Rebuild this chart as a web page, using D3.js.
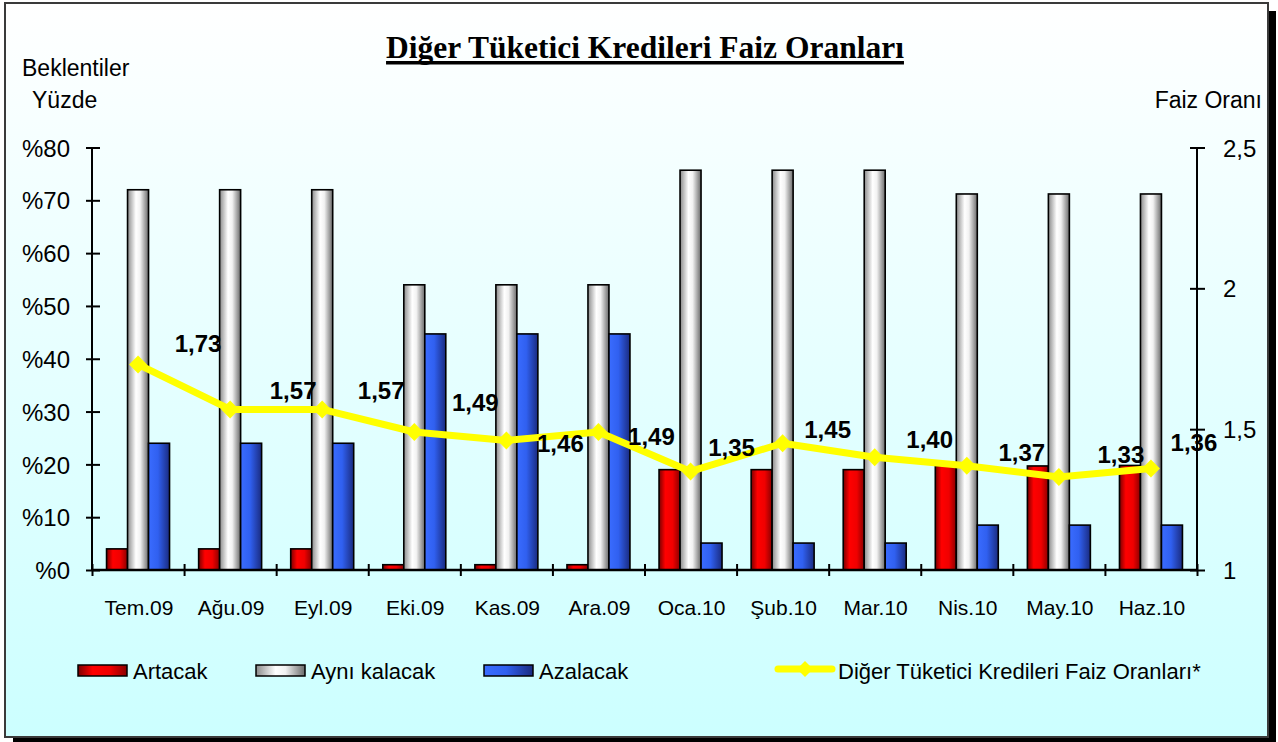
<!DOCTYPE html>
<html>
<head>
<meta charset="utf-8">
<script src="https://cdn.jsdelivr.net/npm/d3@7"></script>
<style>
  html, body { margin: 0; padding: 0; background: #ffffff; }
  svg { display: block; }
  text { font-family: "Liberation Sans", Arial, sans-serif; fill: #000; }
</style>
</head>
<body>
<svg id="chart" width="1278" height="742"></svg>
<script>
// Months of the survey
const categories = ["Tem.09", "Ağu.09", "Eyl.09", "Eki.09", "Kas.09", "Ara.09",
                    "Oca.10", "Şub.10", "Mar.10", "Nis.10", "May.10", "Haz.10"];

// Share of answers (%) for each expectation
const artacak     = [4, 4, 4, 1, 1, 1, 19, 19, 19, 19.8, 19.7, 19.8];
const ayniKalacak = [72, 72, 72, 54, 54, 54, 75.7, 75.7, 75.7, 71.2, 71.2, 71.2];
const azalacak    = [24, 24, 24, 44.7, 44.7, 44.7, 5.1, 5.1, 5.1, 8.5, 8.5, 8.5];

// Interest rate (right axis)
const faizOrani = [1.73, 1.57, 1.57, 1.49, 1.46, 1.49, 1.35, 1.45, 1.40, 1.37, 1.33, 1.36];

// Axis tick values
const leftTicks  = [0, 10, 20, 30, 40, 50, 60, 70, 80];
const rightTicks = [1, 1.5, 2, 2.5];

// Series names
const seriesNames = ["Artacak", "Aynı kalacak", "Azalacak"];
const lineName = "Diğer Tüketici Kredileri Faiz Oranları*";

// Nudges for the value labels of the line (px, relative to each point)
const labelNudge = [[60, -21], [63, -19], [59, -19], [61, -30], [54, 3], [53, 4],
                    [41, -24], [45, -14], [55, -18], [55, -13], [62, -23], [43, -26]];

const svg = d3.select("#chart");
const defs = svg.append("defs");

// Background gradient of the chart area
const bg = defs.append("linearGradient").attr("id", "bgGrad")
  .attr("x1", 0).attr("y1", 0).attr("x2", 0).attr("y2", 1);
bg.append("stop").attr("offset", "0%").attr("stop-color", "#ffffff");
bg.append("stop").attr("offset", "100%").attr("stop-color", "#ccffff");

// Cylinder-like horizontal gradients for the bars
function hGrad(id, stops) {
  const g = defs.append("linearGradient").attr("id", id)
    .attr("x1", 0).attr("y1", 0).attr("x2", 1).attr("y2", 0);
  stops.forEach(([o, c]) => g.append("stop").attr("offset", o).attr("stop-color", c));
}
hGrad("gRed",   [["0%", "#7a0000"], ["30%", "#ff0000"], ["65%", "#f00000"], ["100%", "#8a0000"]]);
hGrad("gWhite", [["0%", "#8a8a8a"], ["40%", "#ffffff"], ["60%", "#f2f2f2"], ["100%", "#6a6a6a"]]);
hGrad("gBlue",  [["0%", "#3a6cff"], ["45%", "#3060f0"], ["100%", "#1a2b80"]]);
const fills = ["url(#gRed)", "url(#gWhite)", "url(#gBlue)"];

// Frame with drop shadow
svg.append("rect").attr("x", 13).attr("y", 11).attr("width", 1263).attr("height", 734).attr("fill", "#000");
svg.append("rect").attr("x", 5).attr("y", 3).attr("width", 1263).attr("height", 734)
  .attr("fill", "url(#bgGrad)").attr("stroke", "#3a3a3a").attr("stroke-width", 2);

// Plot geometry
const plotLeft = 92, plotRight = 1197, plotTop = 147.5, plotBottom = 570;

const x0 = d3.scaleBand().domain(categories).range([plotLeft, plotRight])
  .paddingInner(0.316).paddingOuter(0.158);
const x1 = d3.scaleBand().domain(d3.range(3)).range([0, x0.bandwidth()]).padding(0);
const yL = d3.scaleLinear().domain([0, 80]).range([plotBottom, plotTop]);
const yR = d3.scaleLinear().domain([1, 2.5]).range([plotBottom, plotTop]);
const xEdge = d3.scaleLinear().domain([0, categories.length]).range([plotLeft, plotRight]);

// Bars
const seriesData = [artacak, ayniKalacak, azalacak];
const groups = svg.append("g").selectAll("g").data(categories).join("g")
  .attr("transform", d => `translate(${x0(d)},0)`);
groups.selectAll("rect")
  .data((d, i) => seriesData.map((s, k) => ({ k, v: s[i] })))
  .join("rect")
  .attr("x", d => x1(d.k))
  .attr("y", d => yL(d.v))
  .attr("width", x1.bandwidth())
  .attr("height", d => plotBottom - yL(d.v))
  .attr("fill", d => fills[d.k])
  .attr("stroke", "#000")
  .attr("stroke-width", 1.6);

// Left axis
const gL = svg.append("g").attr("transform", `translate(${plotLeft},0)`)
  .call(d3.axisLeft(yL).tickValues(leftTicks).tickSize(6).tickFormat(d => "%" + d));
gL.select(".domain").attr("stroke", "#000").attr("stroke-width", 2).attr("d", `M0,${plotTop}V${plotBottom}`);
gL.selectAll(".tick line").attr("x1", -6).attr("x2", 8).attr("stroke", "#000").attr("stroke-width", 2);
gL.selectAll(".tick text").attr("x", -22).attr("dy", "0.36em")
  .style("font-size", "24px").style("font-family", "'Liberation Sans', Arial, sans-serif");

// Right axis
const fmtR = d => String(d).replace(".", ",");
const gR = svg.append("g").attr("transform", `translate(${plotRight},0)`)
  .call(d3.axisRight(yR).tickValues(rightTicks).tickSize(6).tickFormat(fmtR));
gR.select(".domain").attr("stroke", "#000").attr("stroke-width", 2).attr("d", `M0,${plotTop}V${plotBottom}`);
gR.selectAll(".tick line").attr("x1", -7).attr("x2", 8).attr("stroke", "#000").attr("stroke-width", 2);
gR.selectAll(".tick text").attr("x", 26).attr("dy", "0.36em").attr("text-anchor", "start")
  .style("font-size", "24px").style("font-family", "'Liberation Sans', Arial, sans-serif");

// Bottom axis with ticks between categories
const gB = svg.append("g").attr("transform", `translate(0,${plotBottom})`)
  .call(d3.axisBottom(xEdge).tickValues(d3.range(0, categories.length + 1)).tickSize(5).tickFormat(""));
gB.select(".domain").attr("stroke", "#000").attr("stroke-width", 2.4).attr("d", `M${plotLeft},0H${plotRight}`);
gB.selectAll(".tick line").attr("y1", -6).attr("y2", 6).attr("stroke", "#000").attr("stroke-width", 2);

// Category labels
svg.append("g").selectAll("text").data(categories).join("text")
  .attr("x", d => x0(d) + x0.bandwidth() / 2 + 1)
  .attr("y", 615)
  .attr("text-anchor", "middle")
  .style("font-size", "21px")
  .text(d => d);

// Interest rate line
const cx = i => x0(categories[i]) + x0.bandwidth() / 2;
const line = d3.line().x((d, i) => cx(i)).y(d => yR(d));
svg.append("path").datum(faizOrani)
  .attr("d", line).attr("fill", "none")
  .attr("stroke", "#ffff00").attr("stroke-width", 7).attr("stroke-linejoin", "round");
svg.append("g").selectAll("path").data(faizOrani).join("path")
  .attr("transform", (d, i) => `translate(${cx(i)},${yR(d)})`)
  .attr("d", "M0,-9L9,0L0,9L-9,0Z")
  .attr("fill", "#ffff00");

// Value labels
svg.append("g").selectAll("text").data(faizOrani).join("text")
  .attr("x", (d, i) => cx(i) + labelNudge[i][0])
  .attr("y", (d, i) => yR(d) + labelNudge[i][1])
  .attr("dy", "0.36em")
  .attr("text-anchor", "middle")
  .style("font-size", "24px").style("font-weight", "bold")
  .text(d => d.toFixed(2).replace(".", ","));

// Title, underlined
const title = svg.append("text")
  .attr("x", 645).attr("y", 58).attr("text-anchor", "middle")
  .style("font-family", "'Liberation Serif', 'Times New Roman', serif")
  .style("font-size", "31.5px").style("font-weight", "bold")
  .text("Diğer Tüketici Kredileri Faiz Oranları");
const tw = title.node().getComputedTextLength();
svg.append("rect").attr("x", 645 - tw / 2).attr("y", 61).attr("width", tw).attr("height", 3.5).attr("fill", "#000");

// Axis titles
svg.append("text").attr("x", 22).attr("y", 76).style("font-size", "23px").text("Beklentiler");
svg.append("text").attr("x", 32).attr("y", 108).style("font-size", "23px").text("Yüzde");
svg.append("text").attr("x", 1262).attr("y", 108).attr("text-anchor", "end").style("font-size", "23px").text("Faiz Oranı");

// Legend
const legendItems = [
  { x: 78, text: seriesNames[0], fill: fills[0] },
  { x: 256, text: seriesNames[1], fill: fills[1] },
  { x: 484, text: seriesNames[2], fill: fills[2] }
];
const lg = svg.append("g");
lg.selectAll("rect").data(legendItems).join("rect")
  .attr("x", d => d.x).attr("y", 665).attr("width", 49).attr("height", 11)
  .attr("fill", d => d.fill).attr("stroke", "#000").attr("stroke-width", 1.5);
lg.selectAll("text").data(legendItems).join("text")
  .attr("x", d => d.x + 55).attr("y", 679)
  .style("font-size", "22px").text(d => d.text);
lg.append("line").attr("x1", 778).attr("x2", 832).attr("y1", 669).attr("y2", 669)
  .attr("stroke", "#ffff00").attr("stroke-width", 7).attr("stroke-linecap", "round");
lg.append("path").attr("transform", "translate(805,669)").attr("d", "M0,-8L8,0L0,8L-8,0Z").attr("fill", "#ffff00");
lg.append("text").attr("x", 838).attr("y", 679).style("font-size", "22px").text(lineName);
</script>
</body>
</html>
